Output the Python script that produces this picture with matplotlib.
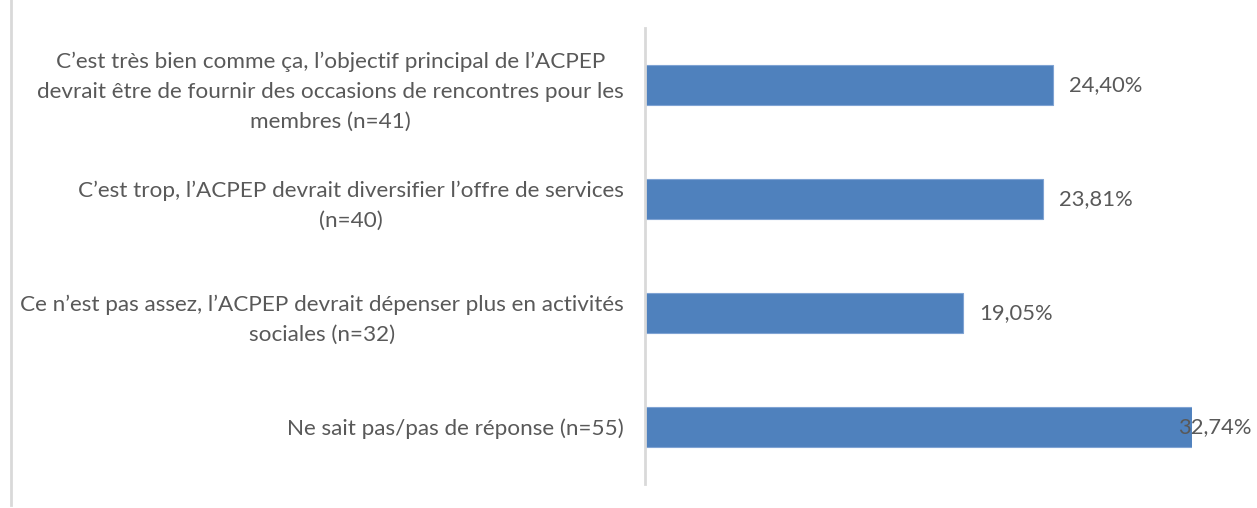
import matplotlib
matplotlib.use("Agg")
import matplotlib.pyplot as plt
from matplotlib.lines import Line2D

plt.rcParams["font.family"] = ["Lato", "DejaVu Sans"]

# ── Data ──
categories = [
    "C\u2019est très bien comme ça, l\u2019objectif principal de l\u2019ACPEP\n"
    "devrait être de fournir des occasions de rencontres pour les\n"
    "membres (n=41)",
    "C\u2019est trop, l\u2019ACPEP devrait diversifier l\u2019offre de services\n(n=40)",
    "Ce n\u2019est pas assez, l\u2019ACPEP devrait dépenser plus en activités\nsociales (n=32)",
    "Ne sait pas/pas de réponse (n=55)",
]
values = [24.40, 23.81, 19.05, 32.74]
value_labels = ["24,40%", "23,81%", "19,05%", "32,74%"]

BAR_COLOR = "#4F81BD"
TEXT_COLOR = "#595959"
GRID_COLOR = "#D9D9D9"
FS_CAT = 16.2
FS_VAL = 15.8

W, H = 1257, 508
fig = plt.figure(figsize=(W / 100, H / 100), dpi=100)
ax = fig.add_axes([645 / W, 24 / H, (1192 - 645) / W, (480 - 24) / H])

pos = list(range(len(values)))
ax.barh(pos, values, height=0.35, color=BAR_COLOR, edgecolor="#7FA3D3", linewidth=0.8)
ax.set_ylim(len(values) - 0.5, -0.5)
ax.set_xlim(0, max(values))

ax.set_yticks(pos)
ax.set_yticklabels(categories, fontsize=FS_CAT, color=TEXT_COLOR, multialignment="center", linespacing=1.62)
ax.tick_params(axis="y", length=0, pad=15)
ax.set_xticks([])
for side in ("top", "right", "bottom"):
    ax.spines[side].set_visible(False)
ax.spines["left"].set_color(GRID_COLOR)
ax.spines["left"].set_linewidth(2)

# value labels, kept inside the figure like Excel does
fig.canvas.draw()
renderer = fig.canvas.get_renderer()
for p, v, lab in zip(pos, values, value_labels):
    t = ax.annotate(lab, xy=(v, p), xytext=(11.5, 0), textcoords="offset points",
                    ha="left", va="center", fontsize=FS_VAL, color=TEXT_COLOR,
                    annotation_clip=False)
    bb = t.get_window_extent(renderer)
    if bb.x1 > W - 5:
        t.set_position((11.5 - (bb.x1 - (W - 5)) * 72 / 100, 0))

# left border line of the chart frame
fig.add_artist(Line2D([11 / W, 11 / W], [3 / H, 1], color=GRID_COLOR, linewidth=2))

fig.savefig("out.png", dpi=100)
